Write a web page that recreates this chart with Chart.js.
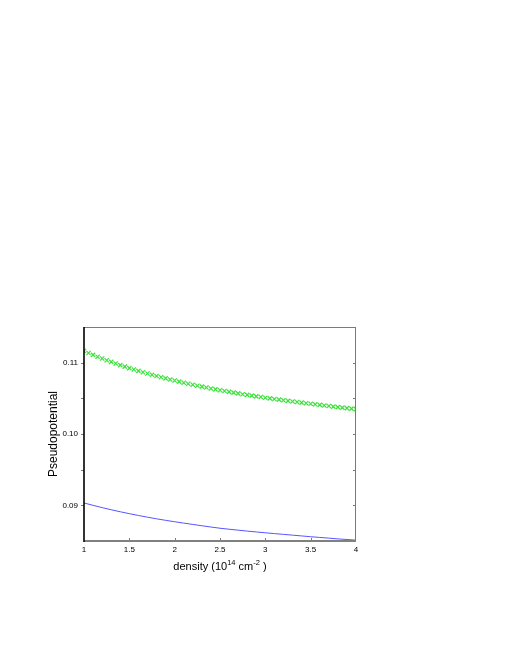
<!DOCTYPE html>
<html>
<head>
<meta charset="utf-8">
<script src="https://cdn.jsdelivr.net/npm/chart.js@4.4.1/dist/chart.umd.min.js"></script>
<style>
  html, body { margin: 0; padding: 0; background: #fff; }
  canvas { display: block; }
</style>
</head>
<body>
<canvas id="chart" width="510" height="660"></canvas>
<script>
// green crosses, density step 0.05
const crossDensity = [
  1.00, 1.05, 1.10, 1.15, 1.20, 1.25, 1.30, 1.35, 1.40, 1.45,
  1.50, 1.55, 1.60, 1.65, 1.70, 1.75, 1.80, 1.85, 1.90, 1.95,
  2.00, 2.05, 2.10, 2.15, 2.20, 2.25, 2.30, 2.35, 2.40, 2.45,
  2.50, 2.55, 2.60, 2.65, 2.70, 2.75, 2.80, 2.85, 2.90, 2.95,
  3.00, 3.05, 3.10, 3.15, 3.20, 3.25, 3.30, 3.35, 3.40, 3.45,
  3.50, 3.55, 3.60, 3.65, 3.70, 3.75, 3.80, 3.85, 3.90, 3.95, 4.00
];
const crossValues = [
  0.11164, 0.11136, 0.11109, 0.11083, 0.11058, 0.11034, 0.11011, 0.10988, 0.10966, 0.10945,
  0.10924, 0.10904, 0.10885, 0.10866, 0.10848, 0.10830, 0.10813, 0.10796, 0.10780, 0.10764,
  0.10749, 0.10734, 0.10719, 0.10705, 0.10691, 0.10677, 0.10664, 0.10651, 0.10638, 0.10626,
  0.10614, 0.10602, 0.10591, 0.10580, 0.10569, 0.10558, 0.10548, 0.10538, 0.10528, 0.10518,
  0.10509, 0.10500, 0.10491, 0.10482, 0.10473, 0.10464, 0.10456, 0.10448, 0.10440, 0.10432,
  0.10424, 0.10416, 0.10408, 0.10400, 0.10392, 0.10384, 0.10377, 0.10370, 0.10363, 0.10356, 0.10349
];

// blue line, density step 0.1
const lineDensity = [
  1.0, 1.1, 1.2, 1.3, 1.4, 1.5, 1.6, 1.7, 1.8, 1.9,
  2.0, 2.1, 2.2, 2.3, 2.4, 2.5, 2.6, 2.7, 2.8, 2.9,
  3.0, 3.1, 3.2, 3.3, 3.4, 3.5, 3.6, 3.7, 3.8, 3.9, 4.0
];
const lineValues = [
  0.09033, 0.09000, 0.08968, 0.08938, 0.08910, 0.08883, 0.08858, 0.08834, 0.08811, 0.08790,
  0.08770, 0.08751, 0.08732, 0.08714, 0.08696, 0.08679, 0.08665, 0.08652, 0.08639, 0.08627,
  0.08615, 0.08604, 0.08593, 0.08582, 0.08571, 0.08560, 0.08550, 0.08540, 0.08530, 0.08521, 0.08512
];

const xTicks = [1, 1.5, 2, 2.5, 3, 3.5, 4];
const xLabels = ['1', '1.5', '2', '2.5', '3', '3.5', '4'];
const yTicks = [0.085, 0.09, 0.095, 0.10, 0.105, 0.11, 0.115];
const yLabels = ['', '0.09', '', '0.10', '', '0.11', ''];

const FONT = 'Liberation Sans, Arial, Helvetica, sans-serif';

// frame, little ticks and the x title with superscripts
const framePlugin = {
  id: 'frame',
  afterDraw(chart) {
    const ctx = chart.ctx;
    const a = chart.chartArea;
    const xs = chart.scales.x, ys = chart.scales.y;
    ctx.save();
    ctx.lineCap = 'butt';

    // top + right borders
    ctx.strokeStyle = '#7a7a7a';
    ctx.lineWidth = 1;
    ctx.beginPath();
    ctx.moveTo(a.left, a.top + 0.5);
    ctx.lineTo(a.right, a.top + 0.5);
    ctx.moveTo(a.right - 0.5, a.top);
    ctx.lineTo(a.right - 0.5, a.bottom);
    ctx.stroke();

    // ticks
    ctx.beginPath();
    yTicks.forEach(v => {
      const py = Math.round(ys.getPixelForValue(v)) + 0.5;
      if (v > 0.086 && v < 0.114) {
        ctx.moveTo(a.left - 3, py); ctx.lineTo(a.left, py);
        ctx.moveTo(a.right - 3, py); ctx.lineTo(a.right, py);
      }
    });
    xTicks.forEach(v => {
      const px = Math.round(xs.getPixelForValue(v)) + 0.5;
      if (v > 1 && v < 4) {
        ctx.moveTo(px, a.bottom); ctx.lineTo(px, a.bottom - 3);
      }
    });
    ctx.stroke();

    // bottom axis, thick grey
    ctx.strokeStyle = '#808080';
    ctx.lineWidth = 2;
    ctx.beginPath();
    ctx.moveTo(a.left, a.bottom);
    ctx.lineTo(a.right, a.bottom);
    ctx.stroke();

    // left axis, black
    ctx.strokeStyle = '#000';
    ctx.lineWidth = 1.6;
    ctx.beginPath();
    ctx.moveTo(a.left, a.top);
    ctx.lineTo(a.left, a.bottom + 1);
    ctx.stroke();

    // x title: density (10^14 cm^-2 )
    const parts = [
      ['density (10', 11, 0],
      ['14', 7.5, -5],
      [' cm', 11, 0],
      ['-2', 7.5, -5],
      [' )', 11, 0]
    ];
    let total = 0;
    parts.forEach(p => { ctx.font = p[1] + 'px ' + FONT; total += ctx.measureText(p[0]).width; });
    let cx = (a.left + a.right) / 2 - total / 2;
    const by = 570;
    ctx.fillStyle = '#000';
    ctx.textBaseline = 'alphabetic';
    ctx.textAlign = 'left';
    parts.forEach(p => {
      ctx.font = p[1] + 'px ' + FONT;
      ctx.fillText(p[0], cx, by + p[2]);
      cx += ctx.measureText(p[0]).width;
    });
    ctx.restore();
  }
};

new Chart(document.getElementById('chart'), {
  type: 'scatter',
  data: {
    datasets: [
      {
        label: 'crosses',
        data: crossDensity.map((d, i) => ({ x: d, y: crossValues[i] })),
        pointStyle: 'crossRot',
        pointRadius: 3,
        pointBorderWidth: 1.2,
        borderColor: 'rgb(60,225,60)',
        backgroundColor: 'rgb(60,225,60)',
        showLine: false
      },
      {
        label: 'line',
        data: lineDensity.map((d, i) => ({ x: d, y: lineValues[i] })),
        showLine: true,
        pointRadius: 0,
        borderWidth: 1,
        borderColor: 'rgb(85,85,255)',
        tension: 0
      }
    ]
  },
  options: {
    responsive: false,
    devicePixelRatio: 1,
    animation: false,
    events: [],
    layout: { padding: { top: 327, right: 154, bottom: 0, left: 0 } },
    plugins: { legend: { display: false }, tooltip: { enabled: false } },
    scales: {
      x: {
        type: 'linear',
        min: 1,
        max: 4,
        afterBuildTicks: s => { s.ticks = xTicks.map(v => ({ value: v })); },
        afterFit: s => { s.height = 119; },
        grid: { display: false, drawTicks: false },
        border: { display: false },
        ticks: {
          padding: 4,
          color: '#000',
          font: { family: FONT, size: 8 },
          callback: (v, i) => xLabels[i]
        }
      },
      y: {
        type: 'linear',
        min: 0.085,
        max: 0.115,
        afterBuildTicks: s => { s.ticks = yTicks.map(v => ({ value: v })); },
        afterFit: s => { s.width = 84; },
        grid: { display: false, drawTicks: false },
        border: { display: false },
        ticks: {
          padding: 6,
          color: '#000',
          font: { family: FONT, size: 8 },
          callback: (v, i) => yLabels[i]
        },
        title: {
          display: true,
          text: 'Pseudopotential',
          color: '#000',
          font: { family: FONT, size: 12 },
          padding: { top: 46, bottom: 0 }
        }
      }
    }
  },
  plugins: [framePlugin]
});
</script>
</body>
</html>
